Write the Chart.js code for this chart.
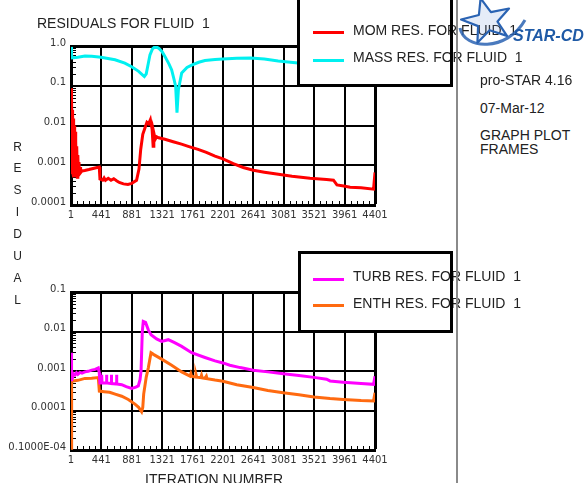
<!DOCTYPE html>
<html>
<head>
<meta charset="utf-8">
<script src="https://cdn.jsdelivr.net/npm/chart.js@4/dist/chart.umd.min.js"></script>
<style>
  html, body { margin: 0; padding: 0; background: #fff; }
  body { width: 586px; height: 483px; position: relative; overflow: hidden;
         font-family: "Liberation Sans", Arial, sans-serif; color: #222; }
  canvas { position: absolute; left: 0; }
  .t { position: absolute; white-space: nowrap; font-size: 14px; line-height: 14px; z-index: 2; }
  .v { position: absolute; width: 20px; left: 7.5px; text-align: center; font-size: 12px; line-height: 12px; }
  .boxfill { position: absolute; background: #fff; z-index: 1; }
  .boxedge { position: absolute; border: 3px solid #000; box-sizing: border-box; z-index: 3; }
  .swatch { position: absolute; left: 313px; width: 31px; height: 3px; z-index: 2; }
</style>
</head>
<body>

<canvas id="top" width="400" height="240" style="top:0"></canvas>
<canvas id="bottom" width="400" height="243" style="top:240px"></canvas>

<div class="t" style="left:37px;top:15.5px">RESIDUALS FOR FLUID&nbsp; 1</div>

<!-- vertical axis caption -->
<div id="vcap"></div>

<!-- legend: upper graph -->
<div class="boxfill" style="left:297px;top:-10px;width:156px;height:97px"></div>
<div class="swatch" style="top:31.2px;background:#ff0000"></div>
<div class="swatch" style="top:58.5px;background:#00f0f0"></div>
<div class="t" style="left:353px;top:23.2px">MOM RES. FOR FLUID&nbsp; 1</div>
<div class="t" style="left:353px;top:49.9px">MASS RES. FOR FLUID&nbsp; 1</div>
<div class="boxedge" style="left:297px;top:-10px;width:156px;height:97px"></div>

<!-- legend: lower graph -->
<div class="boxfill" style="left:298px;top:251px;width:155px;height:82px"></div>
<div class="swatch" style="top:277.8px;background:#ff00ff"></div>
<div class="swatch" style="top:304.2px;background:#ff6a10"></div>
<div class="t" style="left:353px;top:269.2px">TURB RES. FOR FLUID&nbsp; 1</div>
<div class="t" style="left:353px;top:295.9px">ENTH RES. FOR FLUID&nbsp; 1</div>
<div class="boxedge" style="left:298px;top:251px;width:155px;height:82px"></div>

<div class="t" style="left:145px;top:472.2px">ITERATION NUMBER</div>

<!-- side panel -->
<div style="position:absolute;left:456px;top:0;width:2px;height:483px;background:#8a8a8a;z-index:3"></div>
<div class="t" style="left:480px;top:73.2px">pro-STAR 4.16</div>
<div class="t" style="left:480px;top:100.9px">07-Mar-12</div>
<div class="t" style="left:480px;top:128.2px">GRAPH PLOT</div>
<div class="t" style="left:480px;top:141.5px">FRAMES</div>

<svg id="logo" style="position:absolute;left:455px;top:0;z-index:4" width="131" height="50">
  <path d="M5 28 C 9 50, 52 52, 70 20" fill="none" stroke="#2a63b3" stroke-width="3" opacity="0.85"/>
  <polygon id="star" fill="rgba(110,150,215,0.18)" stroke="#2a63b3" stroke-width="2.2" stroke-linejoin="round"/>
  <text x="58" y="40.7" font-family="Liberation Sans, Arial, sans-serif" font-weight="bold"
        font-style="italic" font-size="16" fill="#1f5aa6">STAR-CD</text>
</svg>

<script>
// ---- axis ticks ----
const iterTicks = [1, 441, 881, 1321, 1761, 2201, 2641, 3081, 3521, 3961, 4401];
const topDecades = [1e-4, 1e-3, 1e-2, 1e-1, 1];
const topDecadeLabels = ['0.0001', '0.001', '0.01', '0.1', '1.0'];
const bottomDecades = [1e-5, 1e-4, 1e-3, 1e-2, 1e-1];
const bottomDecadeLabels = ['0.1000E-04', '0.0001', '0.001', '0.01', '0.1'];

// ---- momentum residual ----
const momIter = [1, 6, 12, 18, 24, 30, 36, 42, 48, 54, 60, 66, 72, 78, 84, 92, 100, 108, 116, 124, 132, 140,
  160, 200, 260, 320, 380, 410, 420, 460, 480, 500, 540, 580, 620, 660, 700, 760, 825, 880, 950, 985,
  1010, 1040, 1075, 1100, 1125, 1150, 1175, 1190, 1200, 1220, 1240, 1270, 1360, 1480, 1600, 1720, 1840,
  1960, 2085, 2200, 2350, 2494, 2640, 2800, 2977, 3200, 3460, 3700, 3800, 3850, 3950, 4040, 4200, 4380, 4401];
const momRes = [0.087, 0.0006, 0.05, 0.0007, 0.025, 0.0006, 0.015, 0.0005, 0.01, 0.0006, 0.007, 0.0005,
  0.004, 0.0006, 0.003, 0.0005, 0.0018, 0.0006, 0.0012, 0.0006, 0.0009, 0.00065,
  0.00072, 0.00074, 0.00078, 0.00083, 0.00088, 0.0009, 0.00045, 0.00042, 0.00048, 0.00042, 0.00047,
  0.00042, 0.00046, 0.00041, 0.00037, 0.00034, 0.00033, 0.00035, 0.00042, 0.0008,
  0.0025, 0.006, 0.009, 0.012, 0.011, 0.014, 0.008, 0.003, 0.0065, 0.0045, 0.0052, 0.0049, 0.0045,
  0.0039, 0.0034, 0.0029, 0.0025, 0.0021, 0.0017, 0.00145, 0.0011, 0.00088, 0.00075, 0.00067, 0.0006,
  0.00053, 0.00047, 0.00044, 0.00042, 0.00032, 0.0003, 0.00028, 0.00027, 0.00025, 0.00066];

// ---- mass residual ----
const massIter = [1, 8, 20, 100, 203, 300, 435, 638, 780, 879, 980, 1062, 1090, 1144, 1180, 1207, 1250,
  1275, 1320, 1362, 1420, 1458, 1490, 1516, 1535, 1555, 1603, 1680, 1747, 1850, 1940, 2085, 2200, 2400,
  2600, 2800, 3000, 3286, 3600, 4000, 4401];
const massRes = [0.95, 0.6, 0.5, 0.52, 0.56, 0.55, 0.52, 0.45, 0.37, 0.3, 0.23, 0.17, 0.2, 0.6, 0.85, 0.93,
  0.92, 0.87, 0.72, 0.54, 0.35, 0.25, 0.15, 0.096, 0.021, 0.079, 0.21, 0.29, 0.33, 0.39, 0.43, 0.46, 0.47,
  0.49, 0.5, 0.47, 0.42, 0.375, 0.35, 0.33, 0.32];

// ---- turbulence residual ----
const turbIter = [1, 6, 12, 25, 40, 60, 80, 100, 130, 160, 203, 250, 300, 350, 396, 410, 420, 440, 445, 450,
  510, 515, 520, 580, 585, 590, 655, 660, 665, 735, 800, 879, 940, 975, 1000, 1015, 1033, 1047, 1080, 1120,
  1159, 1240, 1313, 1409, 1500, 1603, 1747, 1940, 2085, 2200, 2300, 2450, 2639, 2850, 3073, 3300, 3517,
  3700, 3750, 3941, 4200, 4380, 4401];
const turbRes = [0.0029, 0.00055, 0.0008, 0.0007, 0.00085, 0.0008, 0.0009, 0.00082, 0.00092, 0.00088,
  0.00095, 0.00098, 0.00105, 0.0011, 0.0012, 0.0009, 0.0005, 0.0005, 0.0008, 0.0005, 0.0005, 0.0008,
  0.0005, 0.00048, 0.0008, 0.00048, 0.00047, 0.0008, 0.00047, 0.00045, 0.0004, 0.00036, 0.00039, 0.00042,
  0.0006, 0.001, 0.01, 0.018, 0.017, 0.011, 0.0083, 0.0065, 0.0056, 0.0062, 0.0052, 0.0042, 0.0029,
  0.0022, 0.0018, 0.0016, 0.0014, 0.00122, 0.00105, 0.00095, 0.00085, 0.00077, 0.00069, 0.00062,
  0.00056, 0.00052, 0.00048, 0.00046, 0.00074];

// ---- enthalpy residual ----
const enthIter = [1, 5, 10, 15, 100, 203, 300, 396, 411, 480, 560, 640, 735, 830, 927, 980, 1023, 1040,
  1053, 1090, 1120, 1159, 1200, 1313, 1458, 1603, 1723, 1735, 1745, 1800, 1810, 1820, 1880, 1890, 1900,
  1940, 1960, 1970, 2085, 2200, 2400, 2639, 2850, 3073, 3300, 3517, 3750, 3941, 4200, 4380, 4401];
const enthRes = [0.000011, 0.0001, 0.0004, 0.00055, 0.00058, 0.00065, 0.00066, 0.00068, 0.00031, 0.0003,
  0.00029, 0.00026, 0.00023, 0.00019, 0.000145, 0.00012, 0.000093, 0.00012, 0.00026, 0.0007, 0.0012,
  0.0029, 0.0026, 0.002, 0.0014, 0.00095, 0.00074, 0.00085, 0.00074, 0.0007, 0.00082, 0.0007, 0.00068,
  0.00078, 0.00067, 0.00065, 0.00074, 0.00064, 0.00059, 0.00055, 0.00045, 0.00038, 0.00032, 0.00028,
  0.00025, 0.00022, 0.0002, 0.00019, 0.000178, 0.000174, 0.00028];

function pairs(xs, ys) { return xs.map((x, i) => ({ x: x, y: ys[i] })); }

// short inward tick marks at 2..9 of each decade and 1/5 steps along the iteration axis
const minorTicks = {
  id: 'minorTicks',
  beforeDatasetsDraw(chart, args, opts) {
    const { ctx, chartArea: a, scales: { x, y } } = chart;
    ctx.save();
    ctx.strokeStyle = '#000';
    ctx.lineWidth = 1;
    ctx.beginPath();
    opts.decades.slice(0, -1).forEach(d => {
      for (let k = 2; k < 10; k++) {
        const py = Math.round(y.getPixelForValue(k * d)) + 0.5;
        ctx.moveTo(a.left + 1, py);
        ctx.lineTo(a.left + 5, py);
      }
    });
    for (let i = 0; i < iterTicks.length - 1; i++) {
      const step = (iterTicks[i + 1] - iterTicks[i]) / 5;
      for (let j = 1; j < 5; j++) {
        const px = Math.round(x.getPixelForValue(iterTicks[i] + j * step)) + 0.5;
        ctx.moveTo(px, a.bottom - 1);
        ctx.lineTo(px, a.bottom - 4);
      }
    }
    ctx.stroke();
    ctx.restore();
  }
};

const tickFont = { family: 'DejaVu Sans', size: 10 };

function residualChart(id, datasets, decades, decadeLabels, topPad, xAxisH) {
  return new Chart(document.getElementById(id), {
    type: 'line',
    data: { datasets: datasets },
    options: {
      responsive: false,
      animation: false,
      devicePixelRatio: 1,
      layout: { padding: { left: 0, top: topPad, right: 25, bottom: 0 } },
      plugins: { legend: { display: false }, tooltip: { enabled: false }, minorTicks: { decades: decades } },
      elements: { point: { radius: 0 }, line: { borderWidth: 3, tension: 0 } },
      scales: {
        x: {
          type: 'linear', min: 1, max: 4401,
          afterBuildTicks: s => { s.ticks = iterTicks.map(v => ({ value: v })); },
          afterFit: s => { s.height = xAxisH; },
          ticks: { autoSkip: false, maxRotation: 0, padding: 4, color: '#333', font: tickFont,
                   callback: v => String(v) },
          grid: { color: '#000', lineWidth: c => (c.index === iterTicks.length - 1 ? 3 : 2), drawTicks: false },
          border: { display: true, color: '#000', width: 3 }
        },
        y: {
          type: 'logarithmic', min: decades[0], max: decades[decades.length - 1],
          afterBuildTicks: s => { s.ticks = decades.map(v => ({ value: v })); },
          afterFit: s => { s.width = 71; },
          ticks: { padding: 5, labelOffset: -3, color: '#333', font: tickFont,
                   callback: (v, i) => decadeLabels[i] },
          grid: { color: '#000', lineWidth: c => (c.index === decades.length - 1 ? 3 : 2), drawTicks: false },
          border: { display: true, color: '#000', width: 3 }
        }
      }
    },
    plugins: [minorTicks]
  });
}

residualChart('top', [
  { label: 'MOM RES. FOR FLUID  1', data: pairs(momIter, momRes), borderColor: '#ff0000' },
  { label: 'MASS RES. FOR FLUID  1', data: pairs(massIter, massRes), borderColor: '#00f0f0' }
], topDecades, topDecadeLabels, 46, 35);

residualChart('bottom', [
  { label: 'TURB RES. FOR FLUID  1', data: pairs(turbIter, turbRes), borderColor: '#ff00ff' },
  { label: 'ENTH RES. FOR FLUID  1', data: pairs(enthIter, enthRes), borderColor: '#ff6a10' }
], bottomDecades, bottomDecadeLabels, 52, 33);

// vertical caption letters
const vcap = document.getElementById('vcap');
'RESIDUAL'.split('').forEach((ch, i) => {
  const d = document.createElement('div');
  d.className = 'v';
  d.style.top = (150.7 + i * 21.9 - 10.2) + 'px';
  d.textContent = ch;
  vcap.appendChild(d);
});

// logo star outline
(function () {
  const cx = 32, cy = 21, ro = 26, ri = 10.5, rot = -0.25;
  const pts = [];
  for (let i = 0; i < 10; i++) {
    const r = i % 2 ? ri : ro;
    const a = rot - Math.PI / 2 + i * Math.PI / 5;
    pts.push((cx + r * Math.cos(a)).toFixed(1) + ',' + (cy + r * Math.sin(a) * 0.9).toFixed(1));
  }
  document.getElementById('star').setAttribute('points', pts.join(' '));
})();
</script>
</body>
</html>
